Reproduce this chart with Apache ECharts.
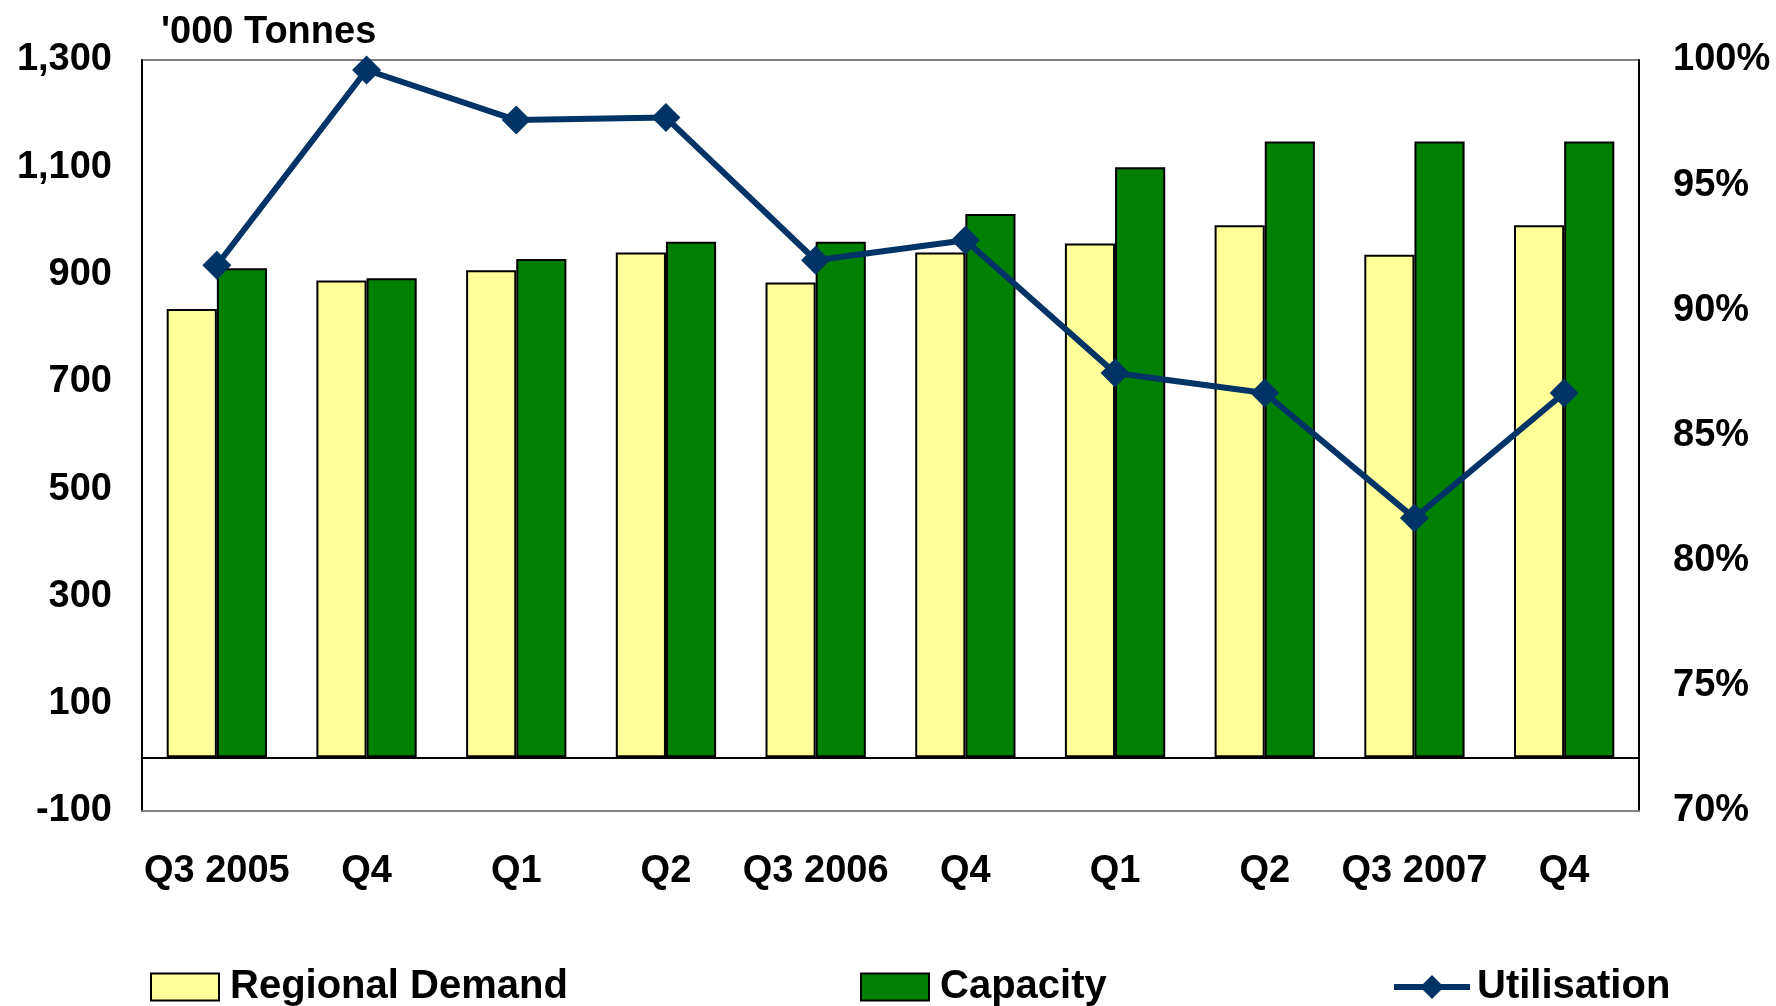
<!DOCTYPE html>
<html>
<head>
<meta charset="utf-8">
<title>Regional Demand vs Capacity</title>
<script src="https://cdn.jsdelivr.net/npm/echarts@6/dist/echarts.min.js"></script>
<style>
  html, body { margin: 0; padding: 0; background: #fff; }
  #chart { width: 1776px; height: 1006px; }
</style>
</head>
<body>
<div id="chart"></div>
<script>
// 数据
const quarters = ['Q3 2005', 'Q4', 'Q1', 'Q2', 'Q3 2006', 'Q4', 'Q1', 'Q2', 'Q3 2007', 'Q4'];
const regionalDemand = [836, 889, 908, 941, 885, 941, 958, 992, 937, 992];
const capacity = [912, 893, 929, 961, 961, 1013, 1100, 1148, 1148, 1148];
const utilisation = [91.8, 99.6, 97.6, 97.7, 92.0, 92.8, 87.5, 86.7, 81.7, 86.7];

const FONT = "'Liberation Sans', Arial, sans-serif";
const lbl = { color: '#000', fontFamily: FONT, fontWeight: 'bold', fontSize: 38 };

const chart = echarts.init(document.getElementById('chart'));

const option = {
  backgroundColor: '#fff',
  animation: false,
  title: {
    text: "'000 Tonnes",
    left: 156,
    top: 9,
    textStyle: { ...lbl }
  },
  legend: [
    {
      data: [{ name: 'Regional Demand', icon: 'rect' }], left: 145, top: 962,
      itemWidth: 68, itemHeight: 27,
      itemStyle: { borderColor: '#000', borderWidth: 2 },
      textStyle: { ...lbl, fontSize: 40, padding: [0, 0, 0, 6] }
    },
    {
      data: [{ name: 'Capacity', icon: 'rect' }], left: 855, top: 962,
      itemWidth: 68, itemHeight: 27,
      itemStyle: { borderColor: '#000', borderWidth: 2 },
      textStyle: { ...lbl, fontSize: 40, padding: [0, 0, 0, 6] }
    },
    {
      data: ['Utilisation'], left: 1386, top: 962,
      itemWidth: 76, itemHeight: 30,
      lineStyle: { width: 6 },
      textStyle: { ...lbl, fontSize: 40, padding: [0, 0, 0, 2] }
    }
  ],
  grid: {
    left: 142, right: 137, top: 60, bottom: 195,
    show: true, borderColor: '#808080', borderWidth: 2
  },
  xAxis: {
    type: 'category',
    data: quarters,
    axisLine: { onZero: false, lineStyle: { color: '#808080', width: 2 } },
    axisTick: { show: false },
    axisLabel: { ...lbl, interval: 0, margin: 42 }
  },
  yAxis: [
    {
      type: 'value',
      min: -100, max: 1300, interval: 100,
      splitLine: { show: false },
      axisTick: { show: false },
      axisLine: { show: true, lineStyle: { color: '#000', width: 2 } },
      axisLabel: {
        ...lbl, margin: 30,
        formatter: v => (Math.abs(Math.round(v / 100)) % 2 === 1 ? v.toLocaleString('en-US') : '')
      }
    },
    {
      type: 'value',
      min: 70, max: 100, interval: 5,
      position: 'right',
      splitLine: { show: false },
      axisTick: { show: false },
      axisLine: { show: true, lineStyle: { color: '#000', width: 2 } },
      axisLabel: { ...lbl, margin: 34, formatter: v => v + '%' }
    }
  ],
  series: [
    {
      name: 'Regional Demand',
      type: 'bar',
      data: regionalDemand,
      barGap: '0%',
      barCategoryGap: '33%',
      itemStyle: { color: '#FFFF99', borderColor: '#000', borderWidth: 2 },
      markLine: {
        silent: true,
        symbol: 'none',
        label: { show: false },
        lineStyle: { color: '#000', type: 'solid', width: 2 },
        data: [{ yAxis: 0 }]
      }
    },
    {
      name: 'Capacity',
      type: 'bar',
      data: capacity,
      itemStyle: { color: '#008000', borderColor: '#000', borderWidth: 2 }
    },
    {
      name: 'Utilisation',
      type: 'line',
      yAxisIndex: 1,
      data: utilisation,
      symbol: 'diamond',
      symbolSize: 29,
      z: 5,
      lineStyle: { color: '#003366', width: 6 },
      itemStyle: { color: '#003366' }
    }
  ]
};

chart.setOption(option);
window.addEventListener('resize', () => chart.resize());
</script>
</body>
</html>
